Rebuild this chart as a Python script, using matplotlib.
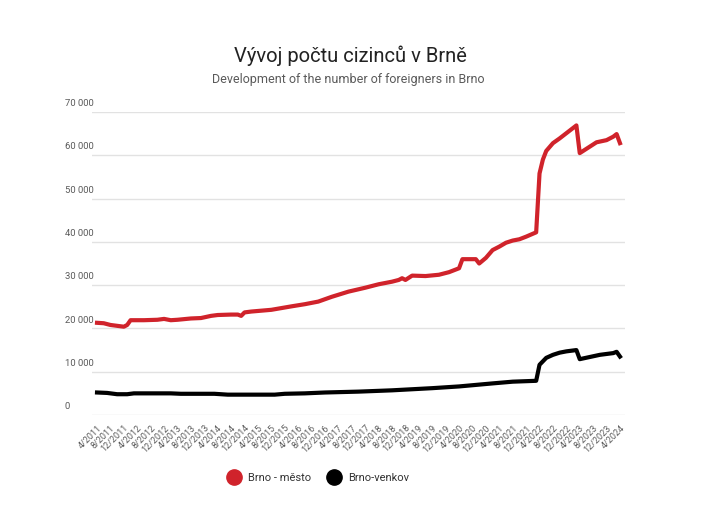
#!/usr/bin/python3
#
# Foreigners in Brno - monthly counts 4/2011 -> 4/2024

import matplotlib.pyplot as plt
from matplotlib.lines import Line2D

plt.rcParams['font.family'] = ['Roboto', 'DejaVu Sans']

# month offset from 4/2011 and values
mesto_months = [0, 2, 4, 6, 8, 9, 10, 14, 18, 20, 22, 24, 28, 31, 34, 36, 40, 42, 43, 44,
	46, 49, 52, 55, 58, 62, 66, 70, 75, 80, 84, 88, 90, 91, 92, 94, 98, 102, 105, 108,
	109, 113, 114, 116, 118, 120, 122, 124, 126, 128, 131, 132, 133, 134, 136, 138, 140,
	142, 143, 144, 147, 149, 152, 154, 155, 156]
mesto_vals = [21300, 21200, 20800, 20600, 20400, 20800, 21900, 21900, 22000, 22200, 21900,
	22000, 22300, 22400, 22900, 23100, 23200, 23200, 22900, 23700, 23900, 24100, 24300,
	24700, 25100, 25600, 26200, 27300, 28500, 29400, 30200, 30800, 31200, 31600, 31200,
	32200, 32100, 32400, 33000, 33900, 36000, 36000, 35000, 36300, 38100, 38900, 39800,
	40300, 40600, 41200, 42200, 55800, 59000, 61000, 62800, 63900, 65100, 66300, 66900,
	60500, 62000, 63000, 63500, 64300, 64900, 62800]

venkov_months = [0, 3, 6, 9, 11, 16, 22, 25, 35, 39, 53, 56, 62, 68, 78, 88, 100, 108, 118,
	124, 131, 132, 134, 136, 138, 140, 143, 144, 147, 150, 154, 155, 156]
venkov_vals = [5200, 5100, 4800, 4800, 5000, 5000, 5000, 4900, 4900, 4700, 4700, 4900, 5000,
	5200, 5400, 5700, 6200, 6600, 7300, 7700, 7900, 11600, 13200, 13900, 14400, 14700,
	15000, 12900, 13400, 13900, 14300, 14600, 13500]

x_labels = ['4/2011', '8/2011', '12/2011', '4/2012', '8/2012', '12/2012', '4/2013', '8/2013',
	'12/2013', '4/2014', '8/2014', '12/2014', '4/2015', '8/2015', '12/2015', '4/2016',
	'8/2016', '12/2016', '4/2017', '8/2017', '12/2017', '4/2018', '8/2018', '12/2018',
	'4/2019', '8/2019', '12/2019', '4/2020', '8/2020', '12/2020', '4/2021', '8/2021',
	'12/2021', '4/2022', '8/2022', '12/2022', '4/2023', '8/2023', '12/2023', '4/2024']
y_ticks = [0, 10000, 20000, 30000, 40000, 50000, 60000, 70000]
y_labels = ['0', '10 000', '20 000', '30 000', '40 000', '50 000', '60 000', '70 000']

red = '#d0232b'
grey = '#5a5a5a'

#
fig = plt.figure(figsize=(7.21, 5.16), dpi=100)
ax = fig.add_axes([92/721, 1-415/516, 533/721, 303/516])

ax.plot(mesto_months, mesto_vals, color=red, lw=3.0, solid_joinstyle='round', clip_on=False, zorder=3)
ax.plot(venkov_months, venkov_vals, color='black', lw=3.0, solid_joinstyle='round', clip_on=False, zorder=3)

ax.set_xlim(-1.5, 157.5)
ax.set_ylim(0, 70000)

# gridlines
for v in y_ticks:
	ax.axhline(v, color='#e2e2e2', lw=1, zorder=1)
ax.set_yticks([])
for v, lab in zip(y_ticks, y_labels):
	ax.text(-0.051, v + 900, lab, transform=ax.get_yaxis_transform(), fontsize=6.8,
		color=grey, ha='left', va='bottom')

ax.set_xticks(range(0, 157, 4))
ax.set_xticklabels(x_labels, rotation=45, ha='right', rotation_mode='anchor', fontsize=6.5, color=grey)
ax.tick_params(axis='x', length=0, pad=6)

for s in ax.spines.values():
	s.set_visible(False)

# titles
fig.text(350/721, 1-56/516, 'Vývoj počtu cizinců v Brně', fontsize=14.5, color='#222222', ha='center', va='center')
fig.text(348/721, 1-79/516, 'Development of the number of foreigners in Brno', fontsize=9, color=grey, ha='center', va='center')

# legend
handles = [Line2D([], [], marker='o', ls='none', markersize=11, color=red),
	Line2D([], [], marker='o', ls='none', markersize=11, color='black')]
fig.legend(handles, ['Brno - město', 'Brno-venkov'], loc='center', bbox_to_anchor=(316/721, 1-478/516),
	ncol=2, frameon=False, fontsize=8, handletextpad=0.3, columnspacing=1.0, labelcolor='#333333')

plt.savefig('out.png', dpi=100)
